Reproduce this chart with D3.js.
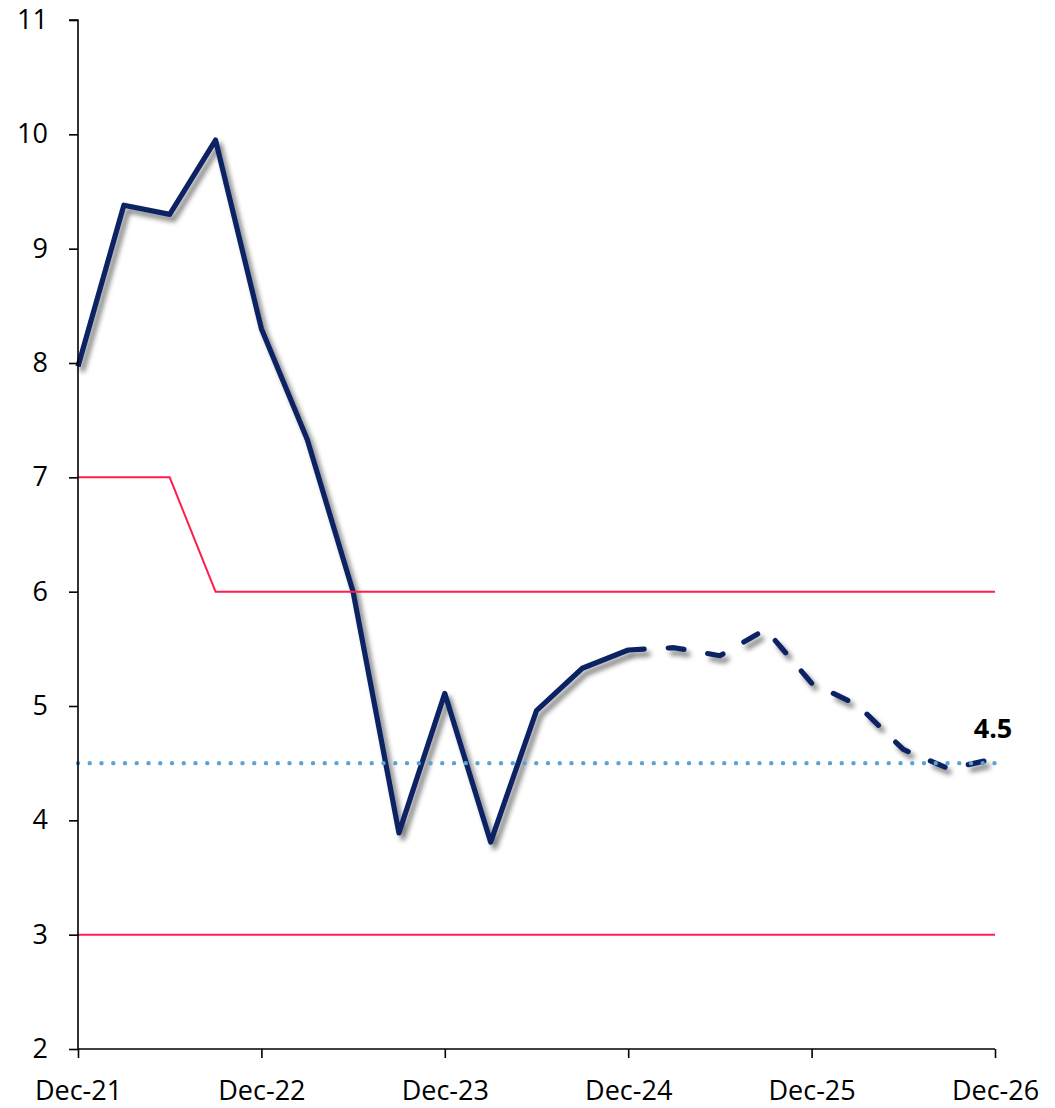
<!DOCTYPE html>
<html>
<head>
<meta charset="utf-8">
<script src="https://cdn.jsdelivr.net/npm/d3@7"></script>
<style>
  html, body { margin: 0; padding: 0; background: #fff; }
  svg { display: block; }
  text { font-family: "Open Sans", Lato, sans-serif; fill: #000; }
</style>
</head>
<body>
<svg id="chart" width="1055" height="1108"></svg>
<script>
// Quarter index 0 = Dec-21 ... 20 = Dec-26
const xTickLabels = ["Dec-21", "Dec-22", "Dec-23", "Dec-24", "Dec-25", "Dec-26"];
const xTickQuarters = [0, 4, 8, 12, 16, 20];
const yTicks = [2, 3, 4, 5, 6, 7, 8, 9, 10, 11];

// Inflation outturns (solid) and projection (dashed), quarterly
const actualValues = [7.97, 9.38, 9.30, 9.95, 8.30, 7.33, 6.00, 3.89, 5.11, 3.81, 4.96, 5.33, 5.49];
const forecastValues = [5.49, 5.51, 5.44, 5.67, 5.20, 5.01, 4.62, 4.45, 4.54];
const forecastStart = 12;

// Tolerance band limits, quarterly
const upperBand = [7, 7, 7, 6, 6, 6, 6, 6, 6, 6, 6, 6, 6, 6, 6, 6, 6, 6, 6, 6, 6];
const lowerBand = [3, 3, 3, 3, 3, 3, 3, 3, 3, 3, 3, 3, 3, 3, 3, 3, 3, 3, 3, 3, 3];
const targetValue = 4.5;

const FONT = "'Open Sans', Lato, sans-serif";
const FONT_SIZE = 27;

const svg = d3.select("#chart");
const x = d3.scaleLinear().domain([0, 20]).range([78, 995]);
const y = d3.scaleLinear().domain([2, 11]).range([1049, 20]);

// soft drop shadow for the main series
const defs = svg.append("defs");
const f = defs.append("filter").attr("id", "shadow")
  .attr("x", "-10%").attr("y", "-10%").attr("width", "120%").attr("height", "120%");
f.append("feGaussianBlur").attr("in", "SourceAlpha").attr("stdDeviation", 2.6).attr("result", "blur");
f.append("feOffset").attr("in", "blur").attr("dx", 3.5).attr("dy", 4.5).attr("result", "off");
f.append("feComponentTransfer").attr("in", "off").attr("result", "shad")
  .append("feFuncA").attr("type", "linear").attr("slope", 0.5);
const merge = f.append("feMerge");
merge.append("feMergeNode").attr("in", "shad");
merge.append("feMergeNode").attr("in", "SourceGraphic");

const line = d3.line().x(d => x(d[0])).y(d => y(d[1]));

// main series
svg.append("path")
  .datum(actualValues.map((v, i) => [i, v]))
  .attr("d", line)
  .attr("fill", "none")
  .attr("stroke", "#0a2463")
  .attr("stroke-width", 5.2)
  .attr("stroke-linejoin", "round")
  .attr("filter", "url(#shadow)");

svg.append("path")
  .datum(forecastValues.map((v, i) => [forecastStart + i, v]))
  .attr("d", line)
  .attr("fill", "none")
  .attr("stroke", "#0a2463")
  .attr("stroke-width", 5.2)
  .attr("stroke-linecap", "round")
  .attr("stroke-linejoin", "round")
  .attr("stroke-dasharray", "16 24")
  .attr("filter", "url(#shadow)");

// tolerance band
[upperBand, lowerBand].forEach(band => {
  svg.append("path")
    .datum(band.map((v, i) => [i, v]))
    .attr("d", line)
    .attr("fill", "none")
    .attr("stroke", "#ff1f4b")
    .attr("stroke-width", 2);
});

// target line
svg.append("path")
  .datum([[0, targetValue], [20, targetValue]])
  .attr("d", line)
  .attr("fill", "none")
  .attr("stroke", "#5ba4d2")
  .attr("stroke-width", 4.4)
  .attr("stroke-linecap", "round")
  .attr("stroke-dasharray", "0 11.75");

// end label
const last = forecastValues[forecastValues.length - 1];
svg.append("text")
  .attr("x", x(20) - 2)
  .attr("y", y(last) - 21)
  .attr("text-anchor", "middle")
  .attr("font-size", FONT_SIZE)
  .attr("font-weight", "bold")
  .attr("font-family", FONT)
  .text(d3.format(".1f")(last));

// axes
const yAxis = d3.axisLeft(y).tickValues(yTicks).tickSize(9).tickPadding(21).tickFormat(d3.format("d"));
const gy = svg.append("g").attr("transform", `translate(${x(0)},0)`).call(yAxis);
const xAxis = d3.axisBottom(x).tickValues(xTickQuarters).tickSize(9).tickPadding(23)
  .tickFormat((d, i) => xTickLabels[i]);
const gx = svg.append("g").attr("transform", `translate(0,${y(2)})`).call(xAxis);

[gx, gy].forEach(g => {
  g.select(".domain").attr("stroke", "#000").attr("stroke-width", 1.6);
  g.selectAll(".tick line").attr("stroke", "#000").attr("stroke-width", 1.6);
  g.selectAll("text").attr("font-size", FONT_SIZE).attr("font-family", FONT).attr("fill", "#000");
});
gy.select(".domain").attr("d", `M-9,${y(11)}H0V${y(2)}`);
gx.select(".domain").attr("d", `M${x(0)},0H${x(20)}`);
</script>
</body>
</html>
